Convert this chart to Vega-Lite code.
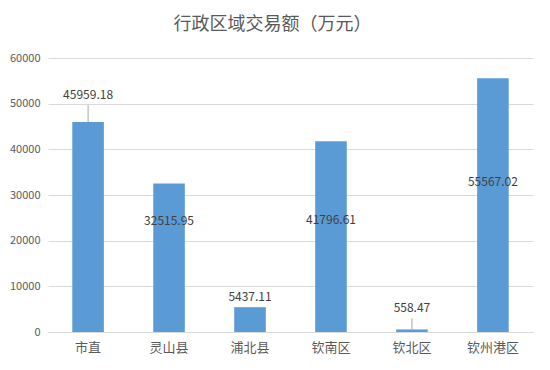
{
  "$schema": "https://vega.github.io/schema/vega-lite/v6.json",
  "width": 485,
  "height": 274,
  "autosize": {"type": "none"},
  "padding": {"left": 48, "top": 58, "right": 17, "bottom": 38},
  "background": "white",
  "title": {
    "text": "行政区域交易额（万元）",
    "font": "Noto Sans CJK SC",
    "fontSize": 18,
    "fontWeight": "normal",
    "color": "#595959",
    "anchor": "middle",
    "dx": -18,
    "offset": 18
  },
  "data": {
    "values": [
      {"region": "市直", "value": 45959.18},
      {"region": "灵山县", "value": 32515.95},
      {"region": "浦北县", "value": 5437.11},
      {"region": "钦南区", "value": 41796.61},
      {"region": "钦北区", "value": 558.47},
      {"region": "钦州港区", "value": 55567.02}
    ]
  },
  "encoding": {
    "x": {
      "field": "region",
      "type": "nominal",
      "sort": null,
      "scale": {"paddingInner": 0.61, "paddingOuter": 0.3},
      "axis": {
        "title": null,
        "labelAngle": 0,
        "labelFont": "Noto Sans CJK SC",
        "labelFontSize": 13,
        "labelColor": "#595959",
        "labelPadding": 9,
        "ticks": false,
        "domainColor": "#D9D9D9",
        "grid": false
      }
    },
    "y": {
      "field": "value",
      "type": "quantitative",
      "scale": {"domain": [0, 60000]},
      "axis": {
        "title": null,
        "values": [0, 10000, 20000, 30000, 40000, 50000, 60000],
        "format": "d",
        "labelFont": "Noto Sans CJK SC",
        "labelFontSize": 11,
        "labelColor": "#595959",
        "labelPadding": 8,
        "ticks": false,
        "domain": false,
        "gridColor": "#D9D9D9"
      }
    }
  },
  "layer": [
    {"mark": {"type": "bar", "color": "#5B9BD5"}},
    {
      "transform": [{"filter": "datum.region === '市直'"}],
      "mark": {"type": "rule", "color": "#A6A6A6", "y2Offset": -17},
      "encoding": {"y2": {"field": "value"}}
    },
    {
      "transform": [{"filter": "datum.region === '钦北区'"}],
      "mark": {"type": "rule", "color": "#A6A6A6", "y2Offset": -11},
      "encoding": {"y2": {"field": "value"}}
    },
    {
      "transform": [{"filter": "datum.region === '市直'"}],
      "mark": {"type": "text", "dy": -27, "font": "Noto Sans CJK SC", "fontSize": 12, "color": "#404040"},
      "encoding": {"text": {"field": "value", "type": "quantitative", "format": ".2f"}}
    },
    {
      "transform": [{"filter": "datum.region === '浦北县'"}],
      "mark": {"type": "text", "dy": -10, "font": "Noto Sans CJK SC", "fontSize": 12, "color": "#404040"},
      "encoding": {"text": {"field": "value", "type": "quantitative", "format": ".2f"}}
    },
    {
      "transform": [{"filter": "datum.region === '钦北区'"}],
      "mark": {"type": "text", "dy": -21, "font": "Noto Sans CJK SC", "fontSize": 12, "color": "#404040"},
      "encoding": {"text": {"field": "value", "type": "quantitative", "format": ".2f"}}
    },
    {
      "transform": [{"filter": "datum.region === '灵山县'"}],
      "mark": {"type": "text", "dy": 37, "font": "Noto Sans CJK SC", "fontSize": 12, "color": "#404040"},
      "encoding": {"text": {"field": "value", "type": "quantitative", "format": ".2f"}}
    },
    {
      "transform": [{"filter": "datum.region === '钦南区'"}],
      "mark": {"type": "text", "dy": 79, "font": "Noto Sans CJK SC", "fontSize": 12, "color": "#404040"},
      "encoding": {"text": {"field": "value", "type": "quantitative", "format": ".2f"}}
    },
    {
      "transform": [{"filter": "datum.region === '钦州港区'"}],
      "mark": {"type": "text", "dy": 104, "font": "Noto Sans CJK SC", "fontSize": 12, "color": "#404040"},
      "encoding": {"text": {"field": "value", "type": "quantitative", "format": ".2f"}}
    }
  ],
  "config": {"view": {"stroke": null}}
}
